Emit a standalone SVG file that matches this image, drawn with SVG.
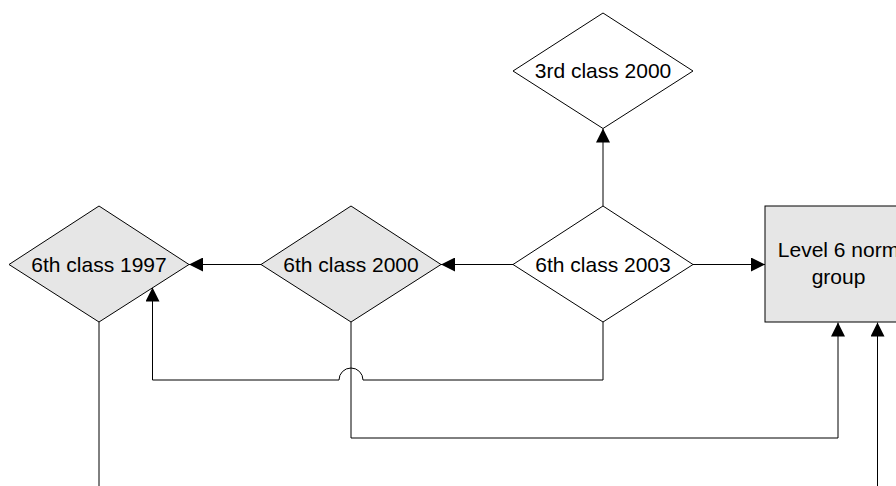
<svg xmlns="http://www.w3.org/2000/svg" width="896" height="486" viewBox="0 0 896 486">
  <style>
    .node { stroke: #000; stroke-width: 1; }
    .shaded { fill: #e6e6e6; }
    .plain { fill: #fff; }
    .label { font-family: "Liberation Sans", Arial, sans-serif; font-size: 21px; fill: #000; text-anchor: middle; }
    .edge { fill: none; stroke: #000; stroke-width: 1; }
  </style>
  <defs>
    <marker id="arrow" viewBox="0 0 14 14" refX="14" refY="7" markerWidth="14" markerHeight="14" markerUnits="userSpaceOnUse" orient="auto">
      <path d="M0,0 L14,7 L0,14 z" fill="#000"/>
    </marker>
  </defs>

  <rect width="896" height="486" fill="#fff"/>

  <!-- connectors -->
  <g id="connectors">
    <path class="edge" d="M603,206 V128.5" marker-end="url(#arrow)"/>
    <path class="edge" d="M513,264.5 H441" marker-end="url(#arrow)"/>
    <path class="edge" d="M261,264.5 H189" marker-end="url(#arrow)"/>
    <path class="edge" d="M693,264.5 H765" marker-end="url(#arrow)"/>
    <path class="edge" d="M603,322 V380 H363 A12,12 0 0 0 339,380 H152.5 V287.5" marker-end="url(#arrow)"/>
    <path class="edge" d="M351,322 V438 H838 V322.5" marker-end="url(#arrow)"/>
    <path class="edge" d="M99,322 V486"/>
    <path class="edge" d="M877.5,486 V322.5" marker-end="url(#arrow)"/>
  </g>

  <!-- nodes -->
  <g id="node-3rd-class-2000">
    <polygon class="node plain" points="513,71 603,13 693,71 603,128.5"/>
    <text class="label" x="603" y="78">3rd class 2000</text>
  </g>

  <g id="node-6th-class-1997">
    <polygon class="node shaded" points="9,264.5 99,206 189,264.5 99,322"/>
    <text class="label" x="99" y="272">6th class 1997</text>
  </g>

  <g id="node-6th-class-2000">
    <polygon class="node shaded" points="261,264.5 351,206 441,264.5 351,322"/>
    <text class="label" x="351" y="272">6th class 2000</text>
  </g>

  <g id="node-6th-class-2003">
    <polygon class="node plain" points="513,264.5 603,206 693,264.5 603,322"/>
    <text class="label" x="603" y="272">6th class 2003</text>
  </g>

  <g id="node-level-6-norm-group">
    <rect class="node shaded" x="765" y="206" width="147" height="116"/>
    <text class="label" x="838.5" y="257">Level 6 norm</text>
    <text class="label" x="838.5" y="284">group</text>
  </g>
</svg>
